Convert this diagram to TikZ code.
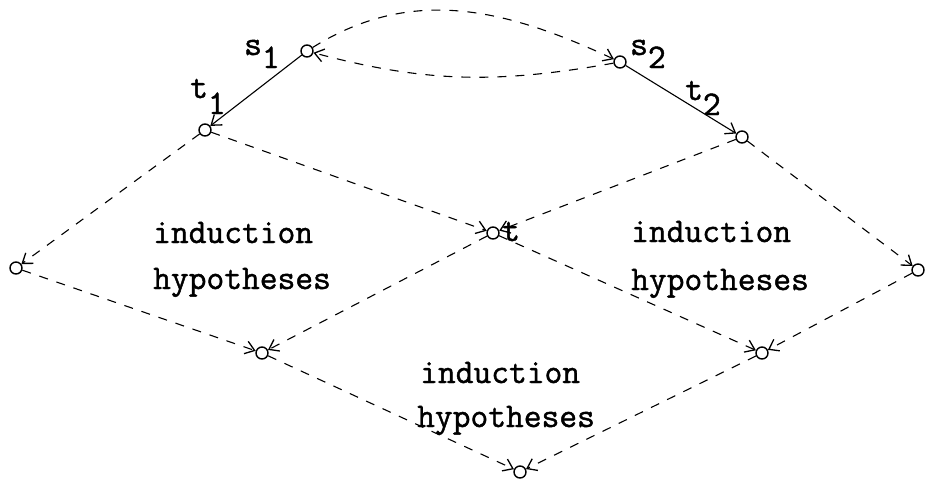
\documentclass[tikz,border=0pt]{standalone}
\usepackage{fontspec}
\newfontfamily\typew[FakeBold=1.3]{Latin Modern Mono}
\usetikzlibrary{arrows.meta}
\tikzset{
  dot/.style={circle, draw=black, line width=1.4pt, minimum size=12pt, inner sep=0pt},
  tip/.style={-{Straight Barb[length=9pt,width=13pt,line width=1.3pt]}},
  solidarrow/.style={tip, line width=1.1pt},
  dasharrow/.style={tip, line width=1.1pt, dash pattern=on 9pt off 9pt},
  txt/.style={font=\fontsize{34.5}{34.5}\typew, inner sep=0pt, anchor=base west},
}
\begin{document}
\begin{tikzpicture}[x=1pt,y=-1pt]
\useasboundingbox (0,0) rectangle (926,483);
% nodes
\node[dot] (s1) at (307,51) {};
\node[dot] (s2) at (620,62) {};
\node[dot] (t1) at (205,130) {};
\node[dot] (t2) at (742,137) {};
\node[dot] (t) at (493,233) {};
\node[dot] (l) at (16,268) {};
\node[dot] (r) at (918,270) {};
\node[dot] (ll) at (262,353) {};
\node[dot] (lr) at (762,353) {};
\node[dot] (b) at (520,472) {};
% labels
\node[txt] (ls1) at (244,55) {s\raisebox{-13pt}{1}};
\node[txt] (ls2) at (630,55) {s\raisebox{-13pt}{2}};
\node[txt] (lt1) at (190,98) {t\raisebox{-16pt}{1}};
\node[txt] (lt2) at (685,100) {t\raisebox{-15pt}{2}};
\node[txt] (lt) at (502,241) {t};
% texts
\node[txt] (a1) at (153,243) {induction};
\node[txt] (a2) at (153,289) {hypotheses};
\node[txt] (b1) at (631,242) {induction};
\node[txt] (b2) at (631,290) {hypotheses};
\node[txt] (c1) at (420,383) {induction};
\node[txt] (c2) at (417,427) {hypotheses};
% solid arrows
\draw[solidarrow] (s1) -- (t1);
\draw[solidarrow] (s2) -- (t2);
% conversion arcs
\draw[dasharrow] (s1) to[out=32,in=155] (s2);
\draw[dasharrow] (s2) to[out=190,in=-15] (s1);
% diamonds
\draw[dasharrow] (t1) -- (l);
\draw[dasharrow] (t1) -- (t);
\draw[dasharrow] (t2) -- (t);
\draw[dasharrow] (t2) -- (r);
\draw[dasharrow] (l) -- (ll);
\draw[dasharrow] (t) -- (ll);
\draw[dasharrow] (t) -- (lr);
\draw[dasharrow] (r) -- (lr);
\draw[dasharrow] (ll) -- (b);
\draw[dasharrow] (lr) -- (b);
\end{tikzpicture}
\end{document}
